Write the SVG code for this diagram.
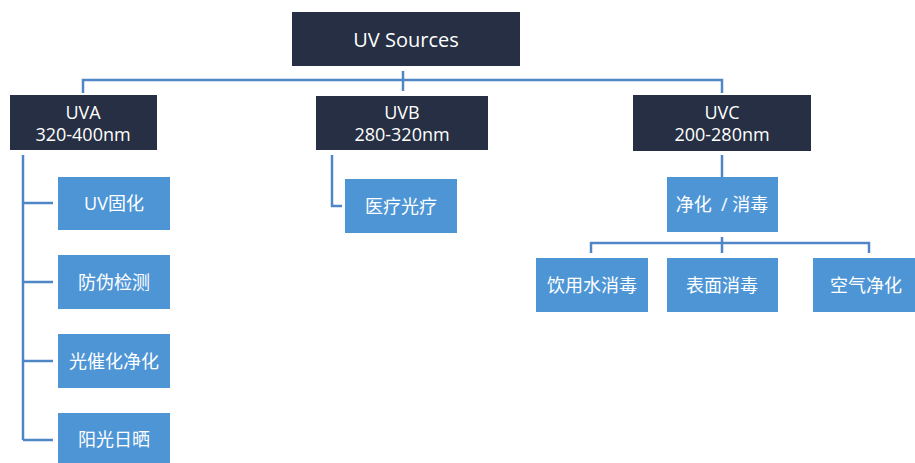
<svg xmlns="http://www.w3.org/2000/svg" width="915" height="463" viewBox="0 0 915 463">
<style>
.dark{fill:#262f43}
.lite{fill:#4e95d6}
.t{fill:#ffffff;font-family:"Open Sans","Noto Sans","Noto Sans CJK SC",sans-serif;font-size:18px;text-anchor:middle;dominant-baseline:central}
.c{fill:none;stroke:#4f86c6;stroke-width:2.5}
</style>
<rect width="915" height="463" fill="#ffffff"/>
<g id="connectors">
<path class="c" d="M403 71V91M83 93V80H722V93"/>
<path class="c" d="M23 155V440M23 203H53M23 282H53M23 361H53M23 440H53"/>
<path class="c" d="M332 155V206H342"/>
<path class="c" d="M722 155V177M722 237V253M591 253V243H869V253"/>
</g>
<g id="uv-sources"><rect class="dark" x="292" y="12" width="228" height="54"/><text class="t" x="406" y="39" style="font-size:20px">UV Sources</text></g>
<g id="uva"><rect class="dark" x="10" y="95" width="147" height="55"/><text class="t" x="83" y="112">UVA</text><text class="t" x="83" y="134">320-400nm</text></g>
<g id="uvb"><rect class="dark" x="316" y="96" width="172" height="54"/><text class="t" x="402" y="112">UVB</text><text class="t" x="402" y="134">280-320nm</text></g>
<g id="uvc"><rect class="dark" x="633" y="95" width="178" height="56"/><text class="t" x="722" y="112">UVC</text><text class="t" x="722" y="134">200-280nm</text></g>
<g id="uv-curing"><rect class="lite" x="58" y="177" width="112" height="53"/><text class="t" x="114" y="203">UV固化</text></g>
<g id="anti-counterfeit"><rect class="lite" x="58" y="255" width="112" height="54"/><text class="t" x="114" y="282">防伪检测</text></g>
<g id="photocatalysis"><rect class="lite" x="58" y="334" width="112" height="54"/><text class="t" x="114" y="361">光催化净化</text></g>
<g id="sunbathing"><rect class="lite" x="58" y="413" width="112" height="50"/><text class="t" x="114" y="439">阳光日晒</text></g>
<g id="phototherapy"><rect class="lite" x="345" y="179" width="112" height="54"/><text class="t" x="401" y="206">医疗光疗</text></g>
<g id="purify-disinfect"><rect class="lite" x="667" y="177" width="111" height="55"/><text class="t" x="722" y="204" style="white-space:pre">净化  / 消毒</text></g>
<g id="water"><rect class="lite" x="536" y="258" width="112" height="54"/><text class="t" x="592" y="285">饮用水消毒</text></g>
<g id="surface"><rect class="lite" x="667" y="258" width="111" height="54"/><text class="t" x="722" y="285">表面消毒</text></g>
<g id="air"><rect class="lite" x="813" y="258" width="102" height="54"/><text class="t" x="866" y="285">空气净化</text></g>
</svg>
